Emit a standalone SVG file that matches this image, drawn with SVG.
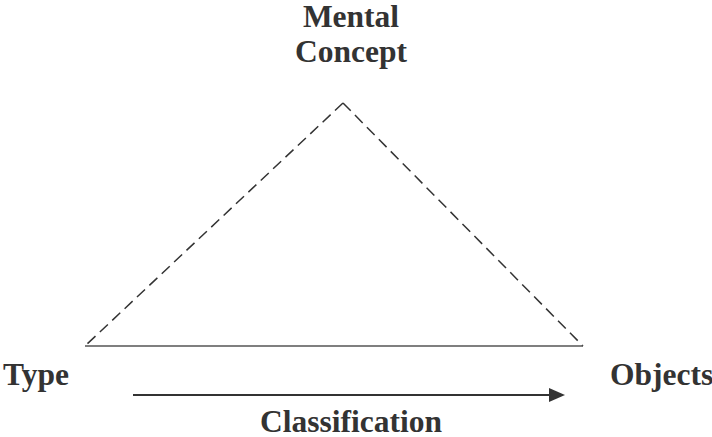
<svg xmlns="http://www.w3.org/2000/svg" width="712" height="437" viewBox="0 0 712 437">
  <style>
    .label { font-family: "Liberation Serif", "Times New Roman", serif; font-weight: bold; font-size: 31.5px; fill: #333333; }
    .dash { stroke: #333333; stroke-width: 1.5; stroke-dasharray: 11 6; fill: none; }
    .solid { stroke: #555555; stroke-width: 1.5; fill: none; }
    .flow { stroke: #333333; stroke-width: 2; fill: none; }
  </style>
  <defs>
    <marker id="arrowhead" markerWidth="16" markerHeight="14" refX="0" refY="7" orient="auto" markerUnits="userSpaceOnUse">
      <path d="M0,0 L16,7 L0,14 Z" fill="#333333"/>
    </marker>
  </defs>
  <rect width="712" height="437" fill="#ffffff"/>

  <!-- triangle edges and the classification arrow -->
  <g id="connectors">
    <line class="dash" x1="343" y1="103" x2="85" y2="346"/>
    <line class="dash" x1="343" y1="103" x2="583" y2="346"/>
    <line class="solid" x1="85" y1="346" x2="583" y2="346"/>
    <line class="flow" x1="133" y1="395" x2="549" y2="395" marker-end="url(#arrowhead)"/>
  </g>

  <g id="mental-concept">
    <text class="label" x="351" y="27" text-anchor="middle">Mental</text>
    <text class="label" x="351" y="62" text-anchor="middle">Concept</text>
  </g>
  <g id="type">
    <text class="label" x="3" y="385">Type</text>
  </g>
  <g id="objects">
    <text class="label" x="610" y="385">Objects</text>
  </g>
  <g id="classification">
    <text class="label" x="260" y="432">Classification</text>
  </g>
</svg>
